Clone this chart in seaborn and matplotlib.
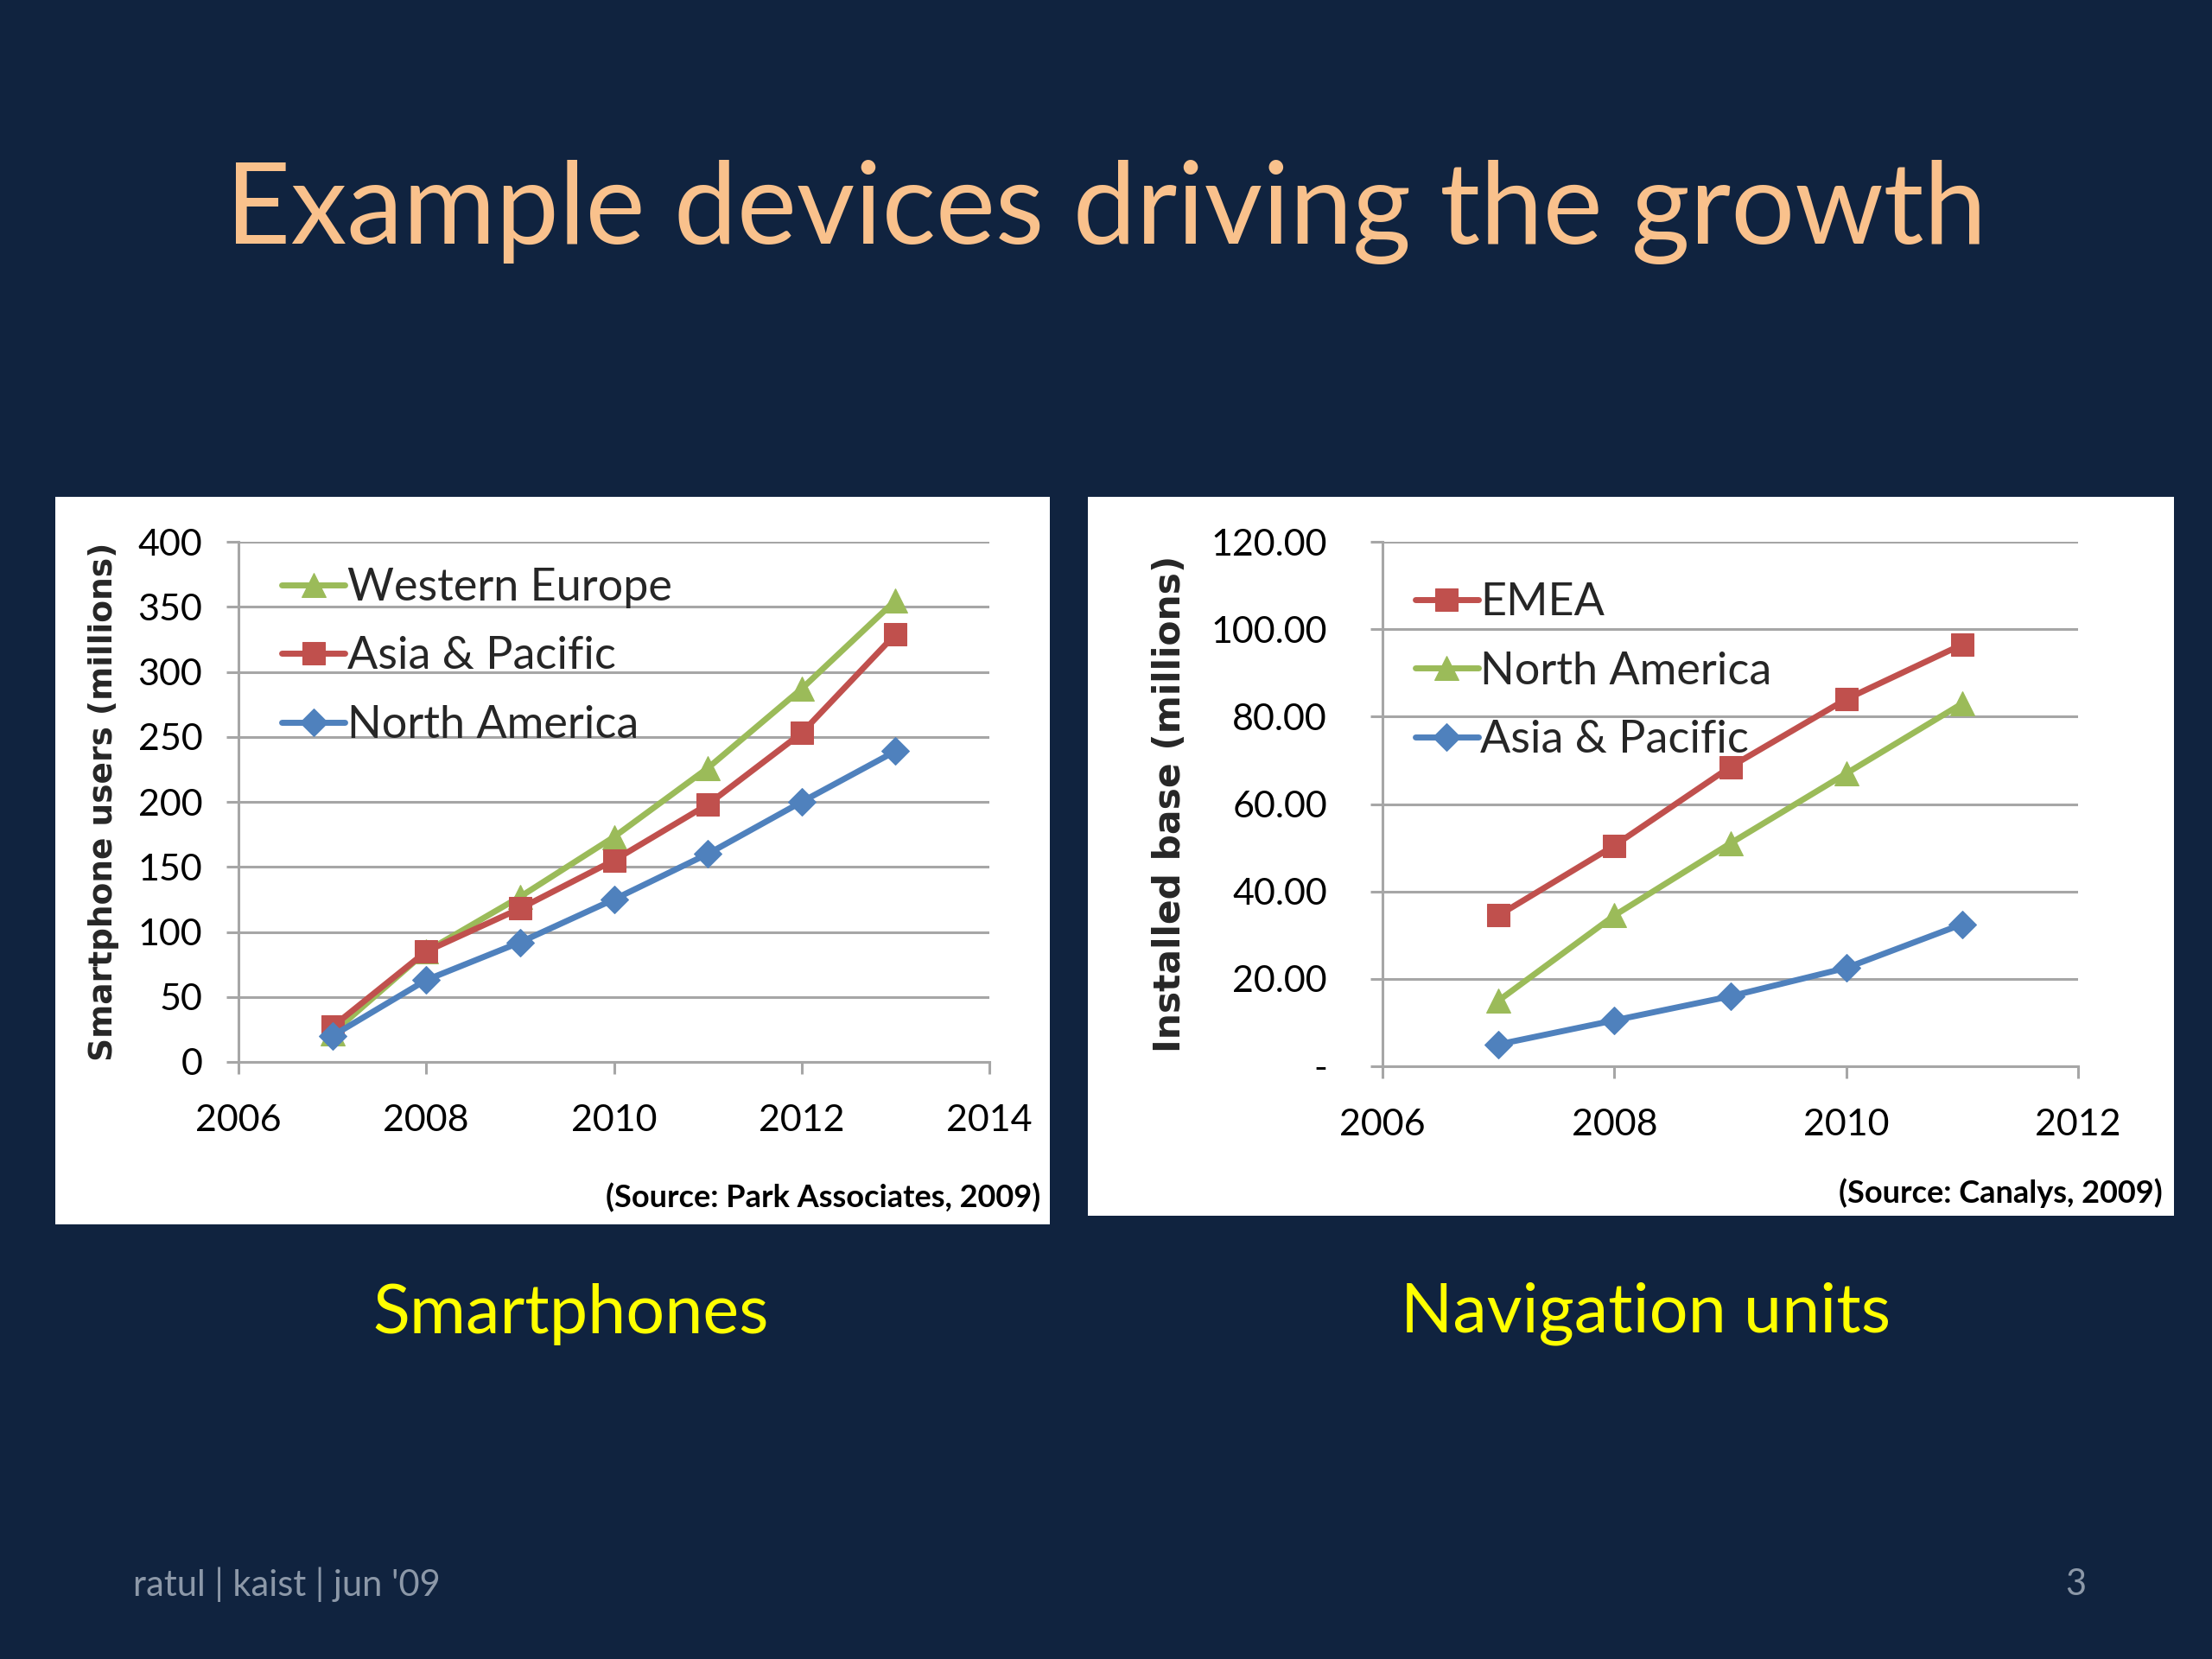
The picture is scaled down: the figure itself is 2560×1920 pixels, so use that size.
import matplotlib
matplotlib.use("Agg")
import matplotlib.pyplot as plt
import seaborn as sns
import pandas as pd
from matplotlib.patches import Rectangle
from matplotlib.ticker import FuncFormatter

# ---------------- data ----------------
sp_years = [2007, 2008, 2009, 2010, 2011, 2012, 2013]
sp_western_europe = [22, 85, 127, 173, 226, 287, 355]
sp_asia_pacific = [27, 85, 118, 155, 198, 253, 329]
sp_north_america = [20, 63, 92, 125, 160, 200, 239]

nav_years = [2007, 2008, 2009, 2010, 2011]
nav_emea = [34.5, 50.5, 68.5, 84.0, 96.5]
nav_north_america = [15.0, 34.5, 51.0, 67.0, 83.0]
nav_asia_pacific = [5.0, 10.5, 16.0, 22.5, 32.5]

sp_ticks_y = [0, 50, 100, 150, 200, 250, 300, 350, 400]
sp_ticks_x = [2006, 2008, 2010, 2012, 2014]
nav_ticks_y = [0, 20, 40, 60, 80, 100, 120]
nav_ticks_x = [2006, 2008, 2010, 2012]

title_text = "Example devices driving the growth"
left_caption = "Smartphones"
right_caption = "Navigation units"
footer_left = "ratul | kaist | jun '09"
footer_right = "3"

# ---------------- style ----------------
sns.set_theme(style="white")
plt.rcParams["font.family"] = ["Lato", "DejaVu Sans"]

BG = "#10233F"
GREEN = "#9BBB59"
RED = "#C0504D"
BLUE = "#4F81BD"
GRID = "#A6A6A6"

fig = plt.figure(figsize=(25.6, 19.2), dpi=100)
fig.patch.set_facecolor(BG)

# white panels
fig.patches.append(Rectangle((0.025, 0.262), 0.4496, 0.4385, transform=fig.transFigure,
                             facecolor="white", edgecolor="none", zorder=-10))
fig.patches.append(Rectangle((0.4918, 0.267), 0.491, 0.4335, transform=fig.transFigure,
                             facecolor="white", edgecolor="none", zorder=-10))

fig.text(0.5, 0.872, title_text, ha="center", va="center", color="#F9C18C", fontsize=94)
fig.text(0.258, 0.208, left_caption, ha="center", va="center", color="#FFFF00", fontsize=57)
fig.text(0.744, 0.208, right_caption, ha="center", va="center", color="#FFFF00", fontsize=57)
fig.text(0.060, 0.045, footer_left, ha="left", va="center", color="#8C98A8", fontsize=30)
fig.text(0.9385, 0.045, footer_right, ha="center", va="center", color="#8C98A8", fontsize=30)


def style_axes(ax, xticks, yticks, ylim, xlim, ypad):
    ax.set_facecolor("none")
    ax.set_xlim(*xlim)
    ax.set_ylim(*ylim)
    ax.set_xticks(xticks)
    ax.set_yticks(yticks)
    ax.yaxis.grid(True, color=GRID, linewidth=2.2)
    ax.xaxis.grid(False)
    ax.set_axisbelow(True)
    for s in ["top", "right"]:
        ax.spines[s].set_visible(False)
    for s in ["left", "bottom"]:
        ax.spines[s].set_color(GRID)
        ax.spines[s].set_linewidth(2.2)
    ax.tick_params(axis="x", which="both", bottom=True, length=10, width=2.2, color=GRID,
                   labelsize=31, pad=25, labelcolor="black")
    ax.tick_params(axis="y", which="both", left=True, length=10, width=2.2, color=GRID,
                   labelsize=31, pad=ypad, labelcolor="black")
    ax.set_xlabel("")


def draw_series(ax, years, values, color, marker, label, ms):
    df = pd.DataFrame({"year": years, "value": values})
    sns.lineplot(data=df, x="year", y="value", ax=ax, color=color, marker=marker,
                 markersize=ms, markeredgecolor=color, linewidth=5, label=label)


LEG = dict(loc="upper left", frameon=False, fontsize=37.5, handlelength=1.4,
           handletextpad=0.05, labelspacing=0.62, borderaxespad=0, borderpad=0)

# ---------------- left: smartphones ----------------
axL = fig.add_axes([0.1078, 0.3599, 0.3395, 0.3135])
draw_series(axL, sp_years, sp_western_europe, GREEN, "^", "Western Europe", 20)
draw_series(axL, sp_years, sp_asia_pacific, RED, "s", "Asia & Pacific", 19)
draw_series(axL, sp_years, sp_north_america, BLUE, "D", "North America", 16)
style_axes(axL, sp_ticks_x, sp_ticks_y, (0, 400), (2006, 2014), 20)
axL.set_ylabel("Smartphone users (millions)", fontsize=27, fontweight="bold",
               family="DejaVu Sans")
axL.yaxis.set_label_coords(-0.159, 0.5)
axL.legend(bbox_to_anchor=(0.058, 0.95), **LEG)
fig.text(0.4705, 0.278, "(Source: Park Associates, 2009)", ha="right", va="center",
         fontsize=26, fontweight="bold", color="black")

# ---------------- right: navigation ----------------
axR = fig.add_axes([0.625, 0.3573, 0.3145, 0.3161])
draw_series(axR, nav_years, nav_emea, RED, "s", "EMEA", 19)
draw_series(axR, nav_years, nav_north_america, GREEN, "^", "North America", 20)
draw_series(axR, nav_years, nav_asia_pacific, BLUE, "D", "Asia & Pacific", 16)
style_axes(axR, nav_ticks_x, nav_ticks_y, (0, 120), (2006, 2012), 36)
axR.yaxis.set_major_formatter(FuncFormatter(lambda v, p: "-" if v == 0 else f"{v:.2f}"))
axR.set_ylabel("Installed base (millions)", fontsize=30.5, fontweight="bold",
               family="DejaVu Sans")
axR.yaxis.set_label_coords(-0.28, 0.5)
axR.legend(bbox_to_anchor=(0.047, 0.922), **LEG)
fig.text(0.9775, 0.281, "(Source: Canalys, 2009)", ha="right", va="center",
         fontsize=26, fontweight="bold", color="black")

fig.savefig("out.png", dpi=100, facecolor=BG)
